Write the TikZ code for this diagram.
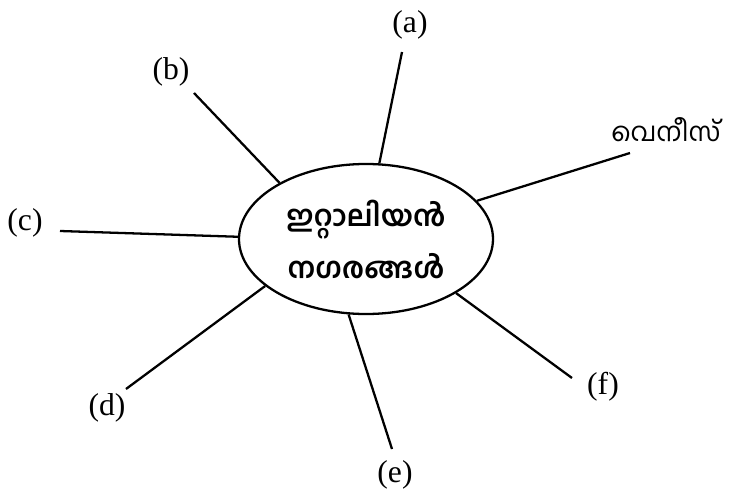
\documentclass[tikz,border=0pt]{standalone}
\usepackage{fontspec}
\setmainfont{Liberation Serif}
\newfontfamily\malfont[Script=Malayalam]{Hind Kochi}
\usetikzlibrary{shapes.geometric, positioning}

\begin{document}
\begin{tikzpicture}[line width=1.3pt,
    spoke/.style={line width=1.3pt},
    letter/.style={font=\fontsize{18}{21}\selectfont, inner sep=0pt}]
  \useasboundingbox (-7.32,-5.00) rectangle (7.42,4.78);
  % Centre: Italian cities
  \node[draw, ellipse, minimum width=5.08cm, minimum height=3.0cm, inner sep=0pt, align=center,
        font=\malfont\bfseries\fontsize{16.5}{29.6}\selectfont] (city) at (0,0) {
    ഇറ്റാലിയൻ\\
    നഗരങ്ങൾ
  };
  % Labels round the ellipse
  \node[letter] (a) at (0.88,4.28) {(a)};
  \node[letter] (b) at (-3.90,3.34) {(b)};
  \node[letter] (c) at (-6.82,0.32) {(c)};
  \node[letter] (d) at (-5.18,-3.38) {(d)};
  \node[letter] (e) at (0.58,-4.72) {(e)};
  \node[letter] (f) at (4.74,-2.96) {(f)};
  \node[inner sep=0pt, font=\malfont\fontsize{15}{17}\selectfont] (venice) at (6.00,2.18) {വെനീസ്};
  % Free ends of the spokes
  \coordinate (a end) at (0.72,3.74);
  \coordinate (b end) at (-3.44,2.92);
  \coordinate (c end) at (-6.12,0.16);
  \coordinate (d end) at (-4.80,-3.00);
  \coordinate (e end) at (0.52,-4.20);
  \coordinate (f end) at (4.12,-2.78);
  \coordinate (venice end) at (5.28,1.72);
  % Spokes
  \draw[spoke] (city.80) -- (a end);
  \draw[spoke] (city.147) -- (b end);
  \draw[spoke] (city.179) -- (c end);
  \draw[spoke] (city.205) -- (d end);
  \draw[spoke] (city.257) -- (e end);
  \draw[spoke] (city.329) -- (f end);
  \draw[spoke] (city.19) -- (venice end);
\end{tikzpicture}
\end{document}
